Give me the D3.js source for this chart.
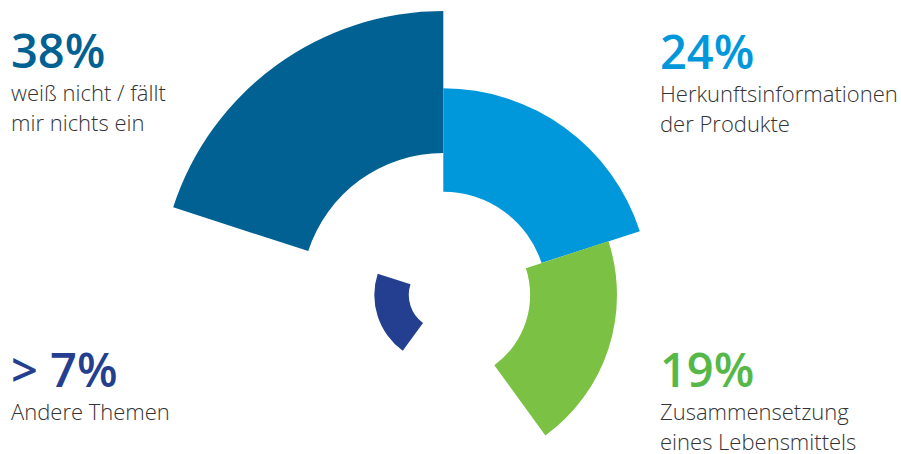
<!DOCTYPE html>
<html>
<head>
<meta charset="utf-8">
<script src="https://cdn.jsdelivr.net/npm/d3@7"></script>
<style>
  body { margin: 0; background: #fff; }
  .pct { font-family: "Open Sans", Lato, sans-serif; font-weight: 600; }
  .lbl { font-family: "Open Sans", Lato, sans-serif; font-weight: 300; fill: #333; }
</style>
</head>
<body>
<script>
// chart data
var categories = ["weiß nicht / fällt mir nichts ein", "Herkunftsinformationen der Produkte", "Zusammensetzung eines Lebensmittels", "Andere Themen"];
var values = [38, 24, 19, 7];
var valueLabels = ["38%", "24%", "19%", "> 7%"];
var labelLines = [
    ["weiß nicht / fällt", "mir nichts ein"],
    ["Herkunftsinformationen", "der Produkte"],
    ["Zusammensetzung", "eines Lebensmittels"],
    ["Andere Themen"]
];
var colors = ["#006192", "#0098da", "#7bc143", "#243f8f"];
var textColors = ["#006192", "#0098da", "#56b848", "#243f8f"];

window.onload = function(){
    var w = 901, h = 454;
    var cx = 443.3, cy = 295;

    var svg = d3.select("body")
        .append("svg")
        .attr("width", w)
        .attr("height", h);

    // outer radius grows with sqrt of the share, inner radius is half of it
    var r = d3.scaleSqrt()
        .domain([7, 38])
        .range([69, 284]);

    // each sector is 72 degrees wide, start angles (deg, clockwise from top)
    var starts = [-72, 0, 72, -144];
    var deg = Math.PI / 180;

    var arc = d3.arc()
        .innerRadius(function(d){ return r(d.value) / 2; })
        .outerRadius(function(d){ return r(d.value); })
        .startAngle(function(d){ return d.start * deg; })
        .endAngle(function(d){ return (d.start + 72) * deg; });

    var data = values.map(function(v, i){
        return { value: v, start: starts[i], color: colors[i], name: categories[i] };
    });

    svg.append("g")
        .attr("transform", "translate(" + cx + "," + cy + ")")
        .selectAll("path")
        .data(data)
        .enter()
        .append("path")
        .attr("d", arc)
        .style("fill", function(d){ return d.color; });

    // label blocks: [x, baseline of percentage]
    var pos = [[11, 68], [660, 69], [660, 387], [11, 387]];

    var labels = svg.selectAll(".label")
        .data(data)
        .enter()
        .append("g")
        .attr("class", "label")
        .attr("transform", function(d, i){
            return "translate(" + pos[i][0] + "," + pos[i][1] + ")";
        });

    labels.append("text")
        .attr("class", "pct")
        .style("font-size", "47px")
        .style("fill", function(d, i){ return textColors[i]; })
        .text(function(d, i){ return valueLabels[i]; });

    labels.each(function(d, i){
        var g = d3.select(this);
        labelLines[i].forEach(function(line, j){
            g.append("text")
                .attr("class", "lbl")
                .attr("y", 33 + j * 30)
                .style("font-size", "22px")
                .text(line);
        });
    });
};
</script>
</body>
</html>
